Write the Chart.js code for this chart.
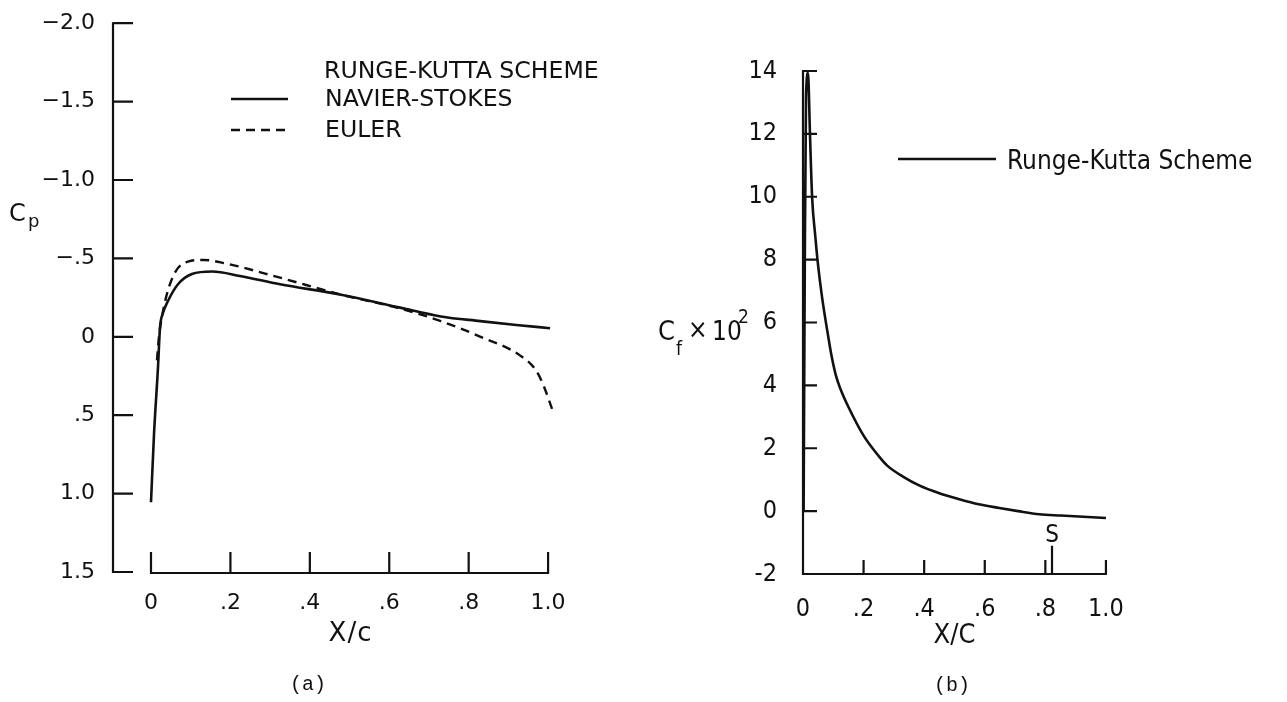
<!DOCTYPE html>
<html>
<head>
<meta charset="utf-8">
<script src="https://cdn.jsdelivr.net/npm/chart.js@4.4.1/dist/chart.umd.min.js"></script>
<style>
  html, body { margin: 0; padding: 0; background: #fff; }
  #wrap { position: relative; width: 1287px; height: 702px; }
  canvas { position: absolute; top: 0; }
  #cpChart { left: 0; }
  #cfChart { left: 640px; }
</style>
</head>
<body>
<div id="wrap">
  <canvas id="cpChart" width="640" height="702"></canvas>
  <canvas id="cfChart" width="647" height="702"></canvas>
</div>
<script>
// (a) pressure coefficient
const cpXTicks = [0, 0.2, 0.4, 0.6, 0.8, 1.0];
const cpXLabels = ['0', '.2', '.4', '.6', '.8', '1.0'];
const cpYTicks = [-2.0, -1.5, -1.0, -0.5, 0, 0.5, 1.0, 1.5];
const cpYLabels = ['\u22122.0', '\u22121.5', '\u22121.0', '\u2212.5', '0', '.5', '1.0', '1.5'];
const nsX = [0, 0.0076, 0.0176, 0.0227, 0.030, 0.043, 0.068, 0.103, 0.154, 0.224, 0.325, 0.476, 0.627, 0.73, 0.829, 0.92, 1.005];
const nsCp = [1.055, 0.62, 0.195, -0.06, -0.15, -0.23, -0.335, -0.40, -0.416, -0.388, -0.335, -0.27, -0.186, -0.13, -0.10, -0.075, -0.055];
const eulerX = [0.015, 0.020, 0.027, 0.042, 0.063, 0.093, 0.133, 0.184, 0.325, 0.477, 0.628, 0.73, 0.83, 0.93, 0.97, 0.99, 1.01];
const eulerCp = [0.15, 0.0, -0.12, -0.29, -0.42, -0.48, -0.49, -0.47, -0.377, -0.27, -0.18, -0.10, 0.0, 0.12, 0.216, 0.32, 0.46];

// (b) skin friction
const cfXTicks = [0, 0.2, 0.4, 0.6, 0.8, 1.0];
const cfXLabels = ['0', '.2', '.4', '.6', '.8', '1.0'];
const cfYTicks = [-2, 0, 2, 4, 6, 8, 10, 12, 14];
const cfYLabels = ['-2', '0', '2', '4', '6', '8', '10', '12', '14'];
const rkX = [0.002, 0.006, 0.010, 0.0165, 0.023, 0.030, 0.040, 0.050, 0.063, 0.0825, 0.095, 0.109, 0.125, 0.148, 0.2, 0.25, 0.279, 0.33, 0.385, 0.45, 0.516, 0.58, 0.648, 0.71, 0.78, 0.85, 0.91, 1.0];
const rkCf = [0, 8, 13.2, 13.94, 12.0, 10.0, 8.8, 7.8, 6.8, 5.6, 4.9, 4.3, 3.85, 3.35, 2.4, 1.75, 1.44, 1.1, 0.81, 0.57, 0.38, 0.22, 0.1, 0.0, -0.1, -0.14, -0.17, -0.22];
const sepX = 0.822;

const leftFont = '"DejaVu Sans", sans-serif';
const rightFont = '"DejaVu Sans Condensed", "Liberation Sans Narrow", "Roboto Condensed", Roboto, sans-serif';
const monoFont = '"Liberation Mono", "DejaVu Sans Mono", monospace';

function toPoints(xs, ys) {
    return xs.map((x, i) => ({ x: x, y: ys[i] }));
}

// Inward ticks and detached axes, drawn from the chart scales
const cpDecor = {
    id: 'cpDecor',
    afterDraw(chart) {
        const ctx = chart.ctx;
        const xs = chart.scales.x, ys = chart.scales.y;
        const left = chart.chartArea.left;
        const base = ys.getPixelForValue(1.5) + 1;
        ctx.save();
        ctx.strokeStyle = '#111';
        ctx.lineWidth = 2.2;
        ctx.beginPath();
        ctx.moveTo(left, ys.getPixelForValue(-2.0) - 1);
        ctx.lineTo(left, base);
        cpYTicks.forEach(v => {
            const py = ys.getPixelForValue(v);
            ctx.moveTo(left, py);
            ctx.lineTo(left + 20, py);
        });
        ctx.moveTo(xs.getPixelForValue(0) - 1, base);
        ctx.lineTo(xs.getPixelForValue(1.0) + 1, base);
        cpXTicks.forEach(v => {
            const px = xs.getPixelForValue(v);
            ctx.moveTo(px, base);
            ctx.lineTo(px, base - 21);
        });
        ctx.stroke();

        // legend
        ctx.fillStyle = '#111';
        ctx.font = '23.6px ' + leftFont;
        ctx.textBaseline = 'middle';
        ctx.textAlign = 'left';
        ctx.fillText('RUNGE-KUTTA SCHEME', 324, 72);
        chart.data.datasets.forEach((ds, i) => {
            const y = 99 + i * 31;
            ctx.beginPath();
            ctx.setLineDash(ds.borderDash || []);
            ctx.lineWidth = 2.4;
            ctx.moveTo(231, y);
            ctx.lineTo(288, y);
            ctx.stroke();
            ctx.fillText(ds.label, 325, y + 1);
        });
        ctx.setLineDash([]);

        // axis titles
        ctx.font = '24px ' + leftFont;
        ctx.textBaseline = 'alphabetic';
        ctx.fillText('C', 9, 221);
        ctx.font = '18px ' + leftFont;
        ctx.fillText('p', 28, 227);

        ctx.font = '26px ' + leftFont;
        ctx.textAlign = 'center';
        ctx.textBaseline = 'middle';
        ctx.letterSpacing = '1px';
        ctx.fillText('X/c', xs.getPixelForValue(0.5) + 1, 634);
        ctx.letterSpacing = '0px';
        ctx.font = '20px ' + monoFont;
        ctx.fillText('(a)', 308, 685);
        ctx.restore();
    }
};

const cfDecor = {
    id: 'cfDecor',
    afterDraw(chart) {
        const ctx = chart.ctx;
        const xs = chart.scales.x, ys = chart.scales.y;
        const left = xs.getPixelForValue(0);
        const base = ys.getPixelForValue(-2);
        ctx.save();
        ctx.strokeStyle = '#111';
        ctx.lineWidth = 2.2;
        ctx.beginPath();
        ctx.moveTo(left, ys.getPixelForValue(14) - 1);
        ctx.lineTo(left, base + 1);
        cfYTicks.forEach(v => {
            const py = ys.getPixelForValue(v);
            ctx.moveTo(left, py);
            ctx.lineTo(left + 14, py);
        });
        ctx.moveTo(left - 1, base);
        ctx.lineTo(xs.getPixelForValue(1.0) + 1, base);
        cfXTicks.forEach(v => {
            const px = xs.getPixelForValue(v);
            ctx.moveTo(px, base);
            ctx.lineTo(px, base - 14);
        });
        // separation point
        const sx = xs.getPixelForValue(sepX);
        const sTop = ys.getPixelForValue(-1.1);
        ctx.moveTo(sx, base);
        ctx.lineTo(sx, sTop);
        ctx.stroke();

        ctx.fillStyle = '#111';
        ctx.textAlign = 'center';
        ctx.textBaseline = 'bottom';
        ctx.font = '24px ' + rightFont;
        ctx.fillText('S', sx, sTop + 2);

        // legend
        ctx.beginPath();
        ctx.lineWidth = 2.4;
        ctx.moveTo(258, 159);
        ctx.lineTo(356, 159);
        ctx.stroke();
        ctx.textAlign = 'left';
        ctx.textBaseline = 'middle';
        ctx.font = '26px ' + rightFont;
        ctx.fillText(chart.data.datasets[0].label, 367, 162);

        // axis titles
        ctx.textBaseline = 'alphabetic';
        ctx.font = '27px ' + rightFont;
        ctx.fillText('C', 18, 340);
        ctx.font = '26px ' + rightFont;
        ctx.fillText('\u00d7', 48, 338);
        ctx.fillText('10', 72, 340);
        ctx.font = '19px ' + rightFont;
        ctx.fillText('f', 36, 355);
        ctx.fillText('2', 98, 323);

        ctx.textAlign = 'center';
        ctx.textBaseline = 'middle';
        ctx.font = '27px ' + rightFont;
        ctx.fillText('X/C', xs.getPixelForValue(0.5), 636);
        ctx.font = '20px ' + monoFont;
        ctx.fillText('(b)', 312, 686);
        ctx.restore();
    }
};

function initCpChart() {
    const ctx = document.getElementById('cpChart').getContext('2d');
    new Chart(ctx, {
        type: 'scatter',
        data: {
            datasets: [{
                label: 'NAVIER-STOKES',
                data: toPoints(nsX, nsCp),
                showLine: true,
                borderColor: '#111',
                borderWidth: 2.6,
                pointRadius: 0,
                cubicInterpolationMode: 'monotone',
                clip: false
            }, {
                label: 'EULER',
                data: toPoints(eulerX, eulerCp),
                showLine: true,
                borderColor: '#111',
                borderWidth: 2.4,
                borderDash: [9, 6],
                pointRadius: 0,
                cubicInterpolationMode: 'monotone',
                clip: false
            }]
        },
        options: {
            responsive: false,
            animation: false,
            devicePixelRatio: 1,
            layout: { padding: { top: 22, right: 80, bottom: 0, left: 0 } },
            plugins: { legend: { display: false }, tooltip: { enabled: false } },
            scales: {
                x: {
                    type: 'linear',
                    min: -0.0957,
                    max: 1.03,
                    grid: { display: false },
                    border: { display: false },
                    afterBuildTicks: (scale) => { scale.ticks = cpXTicks.map(v => ({ value: v })); },
                    afterFit: (scale) => { scale.height = 130; },
                    ticks: {
                        color: '#111',
                        padding: 10,
                        maxRotation: 0,
                        font: { family: leftFont, size: 22 },
                        callback: (value) => cpXLabels[cpXTicks.indexOf(value)]
                    }
                },
                y: {
                    type: 'linear',
                    reverse: true,
                    min: -2.0,
                    max: 1.5,
                    grid: { display: false },
                    border: { display: false },
                    afterBuildTicks: (scale) => { scale.ticks = cpYTicks.map(v => ({ value: v })); },
                    afterFit: (scale) => { scale.width = 113; },
                    ticks: {
                        color: '#111',
                        padding: 10,
                        font: { family: leftFont, size: 22 },
                        callback: (value) => cpYLabels[cpYTicks.indexOf(value)]
                    }
                }
            }
        },
        plugins: [cpDecor]
    });
}

function initCfChart() {
    const ctx = document.getElementById('cfChart').getContext('2d');
    new Chart(ctx, {
        type: 'scatter',
        data: {
            datasets: [{
                label: 'Runge-Kutta Scheme',
                data: toPoints(rkX, rkCf),
                showLine: true,
                borderColor: '#111',
                borderWidth: 2.6,
                pointRadius: 0,
                cubicInterpolationMode: 'monotone',
                clip: false
            }]
        },
        options: {
            responsive: false,
            animation: false,
            devicePixelRatio: 1,
            layout: { padding: { top: 71, right: 175, bottom: 0, left: 0 } },
            plugins: { legend: { display: false }, tooltip: { enabled: false } },
            scales: {
                x: {
                    type: 'linear',
                    min: 0,
                    max: 1.02,
                    grid: { display: false },
                    border: { display: false },
                    afterBuildTicks: (scale) => { scale.ticks = cfXTicks.map(v => ({ value: v })); },
                    afterFit: (scale) => { scale.height = 128; },
                    ticks: {
                        color: '#111',
                        padding: 12,
                        maxRotation: 0,
                        font: { family: rightFont, size: 25 },
                        callback: (value) => cfXLabels[cfXTicks.indexOf(value)]
                    }
                },
                y: {
                    type: 'linear',
                    min: -2,
                    max: 14,
                    grid: { display: false },
                    border: { display: false },
                    afterBuildTicks: (scale) => { scale.ticks = cfYTicks.map(v => ({ value: v })); },
                    afterFit: (scale) => { scale.width = 163; },
                    ticks: {
                        color: '#111',
                        padding: 18,
                        font: { family: rightFont, size: 25 },
                        callback: (value) => cfYLabels[cfYTicks.indexOf(value)]
                    }
                }
            }
        },
        plugins: [cfDecor]
    });
}

document.addEventListener('DOMContentLoaded', () => {
    initCpChart();
    initCfChart();
});
</script>
</body>
</html>
